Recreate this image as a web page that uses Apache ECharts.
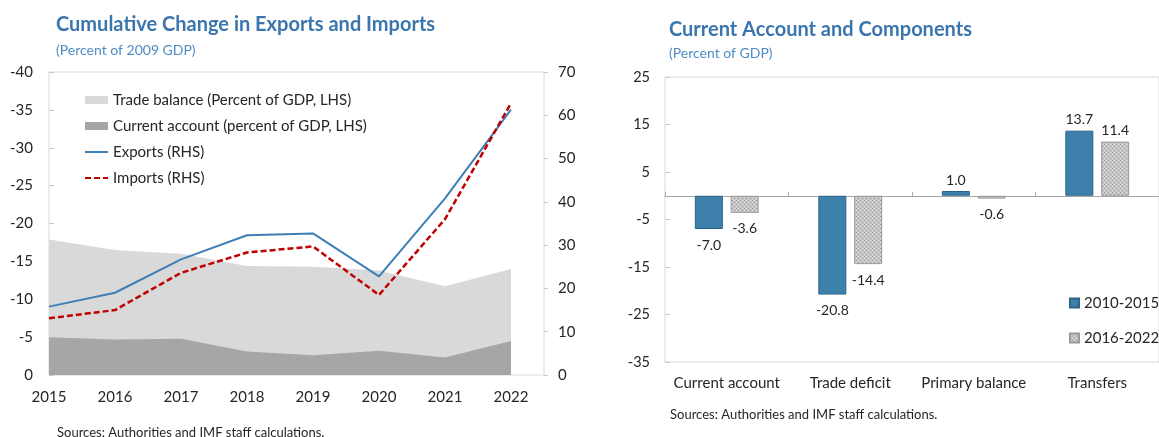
<!DOCTYPE html>
<html><head><meta charset="utf-8">
<script src="https://cdn.jsdelivr.net/npm/echarts@6/dist/echarts.min.js"></script>
<style>html,body{margin:0;padding:0;background:#fff}#c{width:1159px;height:437px}</style>
</head><body><div id="c"></div>
<script>
// ---- Left chart data ----
const years = [2015, 2016, 2017, 2018, 2019, 2020, 2021, 2022];
const tradeBalance = [-17.9, -16.5, -16.0, -14.4, -14.3, -13.8, -11.7, -14.0];
const currentAccount = [-5.0, -4.7, -4.8, -3.1, -2.6, -3.2, -2.3, -4.5];
const exportsRHS = [15.8, 19.0, 26.7, 32.3, 32.7, 22.8, 40.8, 61.3];
const importsRHS = [13.1, 15.0, 23.6, 28.3, 29.7, 18.5, 36.0, 62.8];
const leftSeriesNames = ['Trade balance (Percent of GDP, LHS)', 'Current account (percent of GDP, LHS)', 'Exports (RHS)', 'Imports (RHS)'];

// ---- Right chart data ----
const components = ['Current account', 'Trade deficit', 'Primary balance', 'Transfers'];
const period1 = [-7.0, -20.8, 1.0, 13.7];
const period2 = [-3.6, -14.4, -0.6, 11.4];
const periodNames = ['2010-2015', '2016-2022'];

const FONT = 'Lato';
const TXT = '#262626';
const TITLE = '#3a76ad';
const SUB = '#4f8cc4';

const pc = document.createElement('canvas'); pc.width = 4; pc.height = 4;
const ctx = pc.getContext('2d');
ctx.fillStyle = '#c6c6c6'; ctx.fillRect(0, 0, 4, 4);
ctx.fillStyle = '#949494'; ctx.fillRect(0, 0, 1, 1); ctx.fillRect(2, 2, 1, 1);
ctx.fillStyle = '#e4e4e4'; ctx.fillRect(2, 0, 1, 1); ctx.fillRect(0, 2, 1, 1);
const pattern = { image: pc, repeat: 'repeat' };

const pair = arr => years.map((y, i) => [y, arr[i]]);
const barData = arr => arr.map(v => ({ value: v, label: { position: v < 0 ? 'bottom' : 'top', distance: v < 0 ? 9 : 4 } }));
const noDot = { color: 'rgba(0,0,0,0)', borderWidth: 0, opacity: 0 };

const chart = echarts.init(document.getElementById('c'), null, { renderer: 'canvas' });
chart.setOption({
  animation: false,
  textStyle: { fontFamily: FONT },
  title: [
    { text: 'Cumulative Change in Exports and Imports', left: 51, top: 10, textStyle: { fontFamily: FONT, fontSize: 20, fontWeight: 'bold', color: TITLE } },
    { text: '(Percent of 2009 GDP)', left: 51, top: 38, textStyle: { fontFamily: FONT, fontSize: 14, fontWeight: 'normal', color: SUB } },
    { text: 'Sources: Authorities and IMF staff calculations.', left: 52, top: 421, textStyle: { fontFamily: FONT, fontSize: 13, fontWeight: 'normal', color: TXT } },
    { text: 'Current Account and Components', left: 664, top: 15, textStyle: { fontFamily: FONT, fontSize: 20, fontWeight: 'bold', color: TITLE } },
    { text: '(Percent of GDP)', left: 664, top: 41, textStyle: { fontFamily: FONT, fontSize: 14, fontWeight: 'normal', color: SUB } },
    { text: 'Sources: Authorities and IMF staff calculations.', left: 665, top: 403, textStyle: { fontFamily: FONT, fontSize: 13, fontWeight: 'normal', color: TXT } }
  ],
  legend: [
    {
      orient: 'vertical', left: 79, top: 87, itemWidth: 23, itemHeight: 8, itemGap: 10,
      textStyle: { fontFamily: FONT, fontSize: 15, color: TXT, lineHeight: 16 },
      data: [
        { name: leftSeriesNames[0], icon: 'rect' },
        { name: leftSeriesNames[1], icon: 'rect' },
        { name: leftSeriesNames[2], itemStyle: noDot },
        { name: leftSeriesNames[3], itemStyle: noDot }
      ]
    },
    {
      orient: 'vertical', left: 1064, top: 290, itemWidth: 9, itemHeight: 9, itemGap: 19,
      textStyle: { fontFamily: FONT, fontSize: 15, color: TXT, lineHeight: 16 },
      data: [{ name: periodNames[0], icon: 'rect' }, { name: periodNames[1], icon: 'rect' }]
    }
  ],
  grid: [
    { left: 49, top: 72, width: 495, height: 303, show: true, borderColor: '#d9d9d9', borderWidth: 1, backgroundColor: 'transparent' },
    { left: 665, top: 77, width: 505, height: 285, show: true, borderColor: '#d9d9d9', borderWidth: 1, backgroundColor: 'transparent' }
  ],
  xAxis: [
    {
      gridIndex: 0, type: 'value', min: 2015, max: 2022.5, interval: 1,
      axisLine: { show: false }, axisTick: { show: false }, splitLine: { show: false },
      axisLabel: { margin: 15, fontSize: 15, color: TXT, fontFamily: FONT, showMaxLabel: false,
        formatter: v => Number.isInteger(v) ? String(v) : '' }
    },
    {
      gridIndex: 1, type: 'category', data: components, position: 'bottom',
      axisLine: { show: false, onZero: false }, axisTick: { show: false }, splitLine: { show: false },
      axisLabel: { interval: 0, margin: 14, fontSize: 15, color: TXT, fontFamily: FONT }
    },
    {
      gridIndex: 1, type: 'category', data: components, position: 'bottom',
      axisLine: { show: true, onZero: true, lineStyle: { color: '#a6a6a6', width: 1 } },
      axisTick: { show: true, inside: true, length: 4, interval: 0, lineStyle: { color: '#a6a6a6' } },
      axisLabel: { show: false }, splitLine: { show: false }
    }
  ],
  yAxis: [
    {
      gridIndex: 0, type: 'value', min: -40, max: 0, interval: 5, inverse: true, position: 'left',
      axisLine: { show: false }, splitLine: { show: false },
      axisTick: { show: true, inside: true, length: 5, lineStyle: { color: '#c8c8c8' } },
      axisLabel: { margin: 16, fontSize: 15, color: TXT, fontFamily: FONT }
    },
    {
      gridIndex: 0, type: 'value', min: 0, max: 70, interval: 10, position: 'right',
      axisLine: { show: false }, splitLine: { show: false },
      axisTick: { show: true, inside: false, length: 4, lineStyle: { color: '#c8c8c8' } },
      axisLabel: { margin: 14, fontSize: 15, color: TXT, fontFamily: FONT }
    },
    {
      gridIndex: 1, type: 'value', min: -35, max: 25, interval: 10, position: 'left',
      axisLine: { show: false }, splitLine: { show: false },
      axisTick: { show: true, inside: true, length: 5, lineStyle: { color: '#c8c8c8' } },
      axisLabel: { margin: 15, fontSize: 14.5, color: TXT, fontFamily: FONT }
    }
  ],
  series: [
    {
      name: leftSeriesNames[0], type: 'line', xAxisIndex: 0, yAxisIndex: 0, data: pair(tradeBalance),
      symbol: 'none', z: 1, itemStyle: { color: '#d9d9d9' }, lineStyle: { width: 0, color: '#d9d9d9' },
      areaStyle: { color: '#d9d9d9', opacity: 1 }
    },
    {
      name: leftSeriesNames[1], type: 'line', xAxisIndex: 0, yAxisIndex: 0, data: pair(currentAccount),
      symbol: 'none', z: 2, itemStyle: { color: '#a6a6a6' }, lineStyle: { width: 0, color: '#a6a6a6' },
      areaStyle: { color: '#a6a6a6', opacity: 1 }
    },
    {
      name: leftSeriesNames[2], type: 'line', xAxisIndex: 0, yAxisIndex: 1, data: pair(exportsRHS),
      symbol: 'none', z: 3, itemStyle: { color: '#3f7fb6' }, lineStyle: { width: 2, color: '#3f7fb6' }
    },
    {
      name: leftSeriesNames[3], type: 'line', xAxisIndex: 0, yAxisIndex: 1, data: pair(importsRHS),
      symbol: 'none', z: 4, itemStyle: { color: '#c00000' }, lineStyle: { width: 2.5, color: '#c00000', type: [6, 3] }
    },
    {
      name: periodNames[0], type: 'bar', xAxisIndex: 1, yAxisIndex: 2, data: barData(period1),
      barWidth: 28, barGap: '28%',
      itemStyle: { color: '#3d80ab', borderColor: '#2c6488', borderWidth: 1 },
      label: { show: true, fontSize: 14, color: TXT, fontFamily: FONT, formatter: p => p.value.toFixed(1) }
    },
    {
      name: periodNames[1], type: 'bar', xAxisIndex: 1, yAxisIndex: 2, data: barData(period2),
      barWidth: 28, barGap: '28%',
      itemStyle: { color: pattern, borderColor: '#999999', borderWidth: 1 },
      label: { show: true, fontSize: 14, color: TXT, fontFamily: FONT, formatter: p => p.value.toFixed(1) }
    }
  ]
});
</script>
</body></html>
